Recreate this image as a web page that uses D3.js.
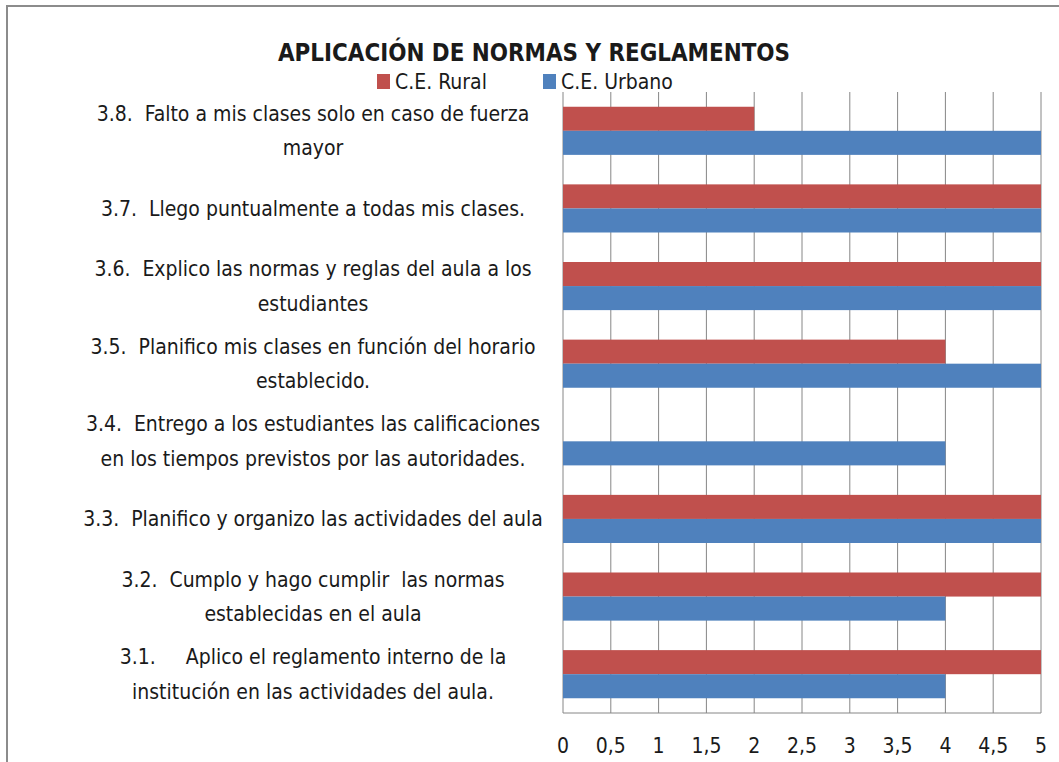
<!DOCTYPE html>
<html>
<head>
<meta charset="utf-8">
<script src="https://cdn.jsdelivr.net/npm/d3@7"></script>
<style>
  body { margin: 0; background: #fff; }
  text { font-family: "Liberation Sans Narrow", "DejaVu Sans Condensed", sans-serif; fill: #1a1a1a; white-space: pre; }
</style>
</head>
<body>
<div class="content"></div>
<script>
var width = 1059, height = 762;

// categories, top to bottom (each entry = wrapped lines)
var categories = [
  ["3.8.  Falto a mis clases solo en caso de fuerza", "mayor"],
  ["3.7.  Llego puntualmente a todas mis clases."],
  ["3.6.  Explico las normas y reglas del aula a los", "estudiantes"],
  ["3.5.  Planifico mis clases en función del horario", "establecido."],
  ["3.4.  Entrego a los estudiantes las calificaciones", "en los tiempos previstos por las autoridades."],
  ["3.3.  Planifico y organizo las actividades del aula"],
  ["3.2.  Cumplo y hago cumplir  las normas", "establecidas en el aula"],
  ["3.1.     Aplico el reglamento interno de la", "institución en las actividades del aula."]
];
var rural = [2, 5, 5, 4, 0, 5, 5, 5];
var urbano = [5, 5, 5, 5, 4, 5, 4, 4];
var seriesNames = ["C.E. Rural", "C.E. Urbano"];
var seriesColors = ["#c0504d", "#4f81bd"];
var ticks = [0, 0.5, 1, 1.5, 2, 2.5, 3, 3.5, 4, 4.5, 5];

var svg = d3.select(".content").append("svg")
  .attr("width", width)
  .attr("height", height);

// outer chart border (runs off the right / bottom edge)
svg.append("rect")
  .attr("x", 7).attr("y", 6)
  .attr("width", width + 20).attr("height", height + 20)
  .attr("fill", "#fff")
  .attr("stroke", "#8c8c8c")
  .attr("stroke-width", 2);

var plot = { left: 563, right: 1041, top: 92, bottom: 713 };

var x = d3.scaleLinear().domain([0, 5]).range([plot.left, plot.right]);
var y = d3.scaleBand()
  .domain(d3.range(categories.length))
  .range([plot.top, plot.bottom])
  .paddingInner(0.38).paddingOuter(0.19);
var ySub = d3.scaleBand().domain([0, 1]).range([0, y.bandwidth()]);

// gridlines
svg.append("g").selectAll("line")
  .data(ticks)
  .enter().append("line")
  .attr("x1", function (d) { return x(d); })
  .attr("x2", function (d) { return x(d); })
  .attr("y1", plot.top)
  .attr("y2", plot.bottom)
  .attr("stroke", "#868686")
  .attr("stroke-width", 1);

svg.append("line")
  .attr("x1", plot.left).attr("x2", plot.right)
  .attr("y1", plot.bottom).attr("y2", plot.bottom)
  .attr("stroke", "#868686");

// bars
var rows = categories.map(function (c, i) { return { i: i, vals: [rural[i], urbano[i]] }; });
var g = svg.selectAll(".row")
  .data(rows)
  .enter().append("g")
  .attr("class", "row")
  .attr("transform", function (d) { return "translate(0," + y(d.i) + ")"; });

g.selectAll("rect")
  .data(function (d) { return d.vals; })
  .enter().append("rect")
  .attr("x", x(0))
  .attr("y", function (d, j) { return ySub(j); })
  .attr("width", function (d) { return x(d) - x(0); })
  .attr("height", ySub.bandwidth())
  .attr("fill", function (d, j) { return seriesColors[j]; });

// category labels
var lineH = 34.5;
svg.selectAll(".cat")
  .data(categories)
  .enter().append("text")
  .attr("class", "cat")
  .attr("text-anchor", "middle")
  .attr("font-size", 21)
  .each(function (lines, i) {
    var cy = y(i) + y.bandwidth() / 2;
    var t = d3.select(this);
    lines.forEach(function (s, k) {
      t.append("tspan")
        .attr("x", 313)
        .attr("y", cy + (k - (lines.length - 1) / 2) * lineH)
        .attr("dy", "0.35em")
        .text(s);
    });
  });

// x tick labels
svg.selectAll(".tick")
  .data(ticks)
  .enter().append("text")
  .attr("class", "tick")
  .attr("x", function (d) { return x(d); })
  .attr("y", 746)
  .attr("dy", "0.35em")
  .attr("text-anchor", "middle")
  .attr("font-size", 21)
  .text(function (d) { return String(d).replace(".", ","); });

// title
svg.append("text")
  .attr("x", 534).attr("y", 61)
  .attr("text-anchor", "middle")
  .attr("font-size", 25)
  .attr("font-weight", "bold")
  .attr("textLength", 512)
  .attr("lengthAdjust", "spacingAndGlyphs")
  .text("APLICACIÓN DE NORMAS Y REGLAMENTOS");

// legend
var legendX = [377, 543];
var lg = svg.selectAll(".legend")
  .data(seriesNames)
  .enter().append("g")
  .attr("class", "legend")
  .attr("transform", function (d, i) { return "translate(" + legendX[i] + ",74)"; });
lg.append("rect").attr("width", 13).attr("height", 15)
  .attr("fill", function (d, i) { return seriesColors[i]; });
lg.append("text").attr("x", 18).attr("y", 8).attr("dy", "0.35em")
  .attr("font-size", 21)
  .text(function (d) { return d; });
</script>
</body>
</html>
